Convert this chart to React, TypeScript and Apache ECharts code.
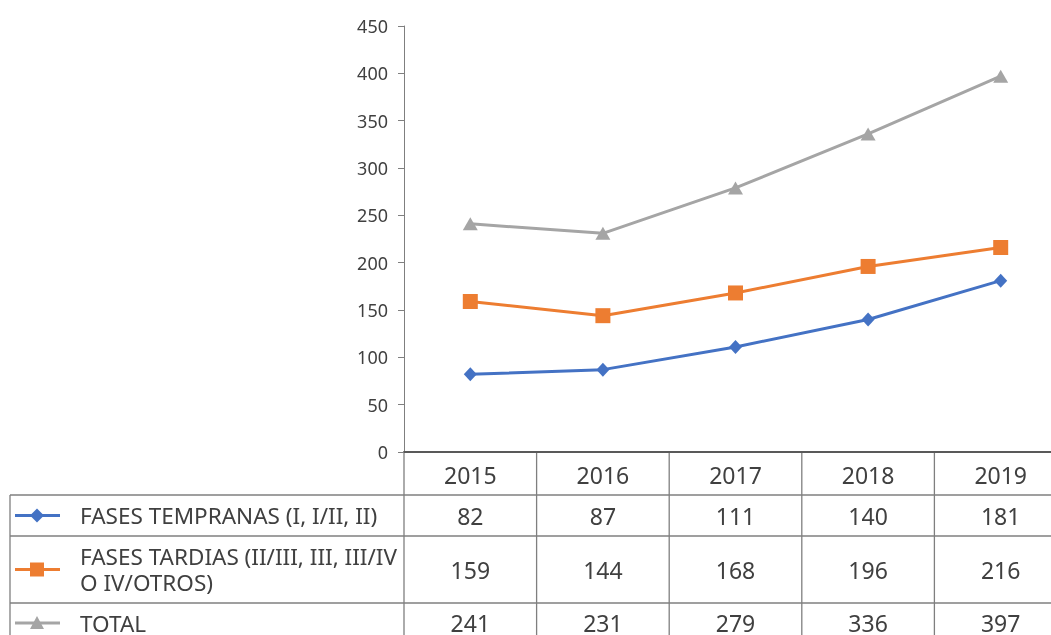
import React, { useEffect, useRef } from "react";
import * as echarts from "echarts";

const years = ["2015", "2016", "2017", "2018", "2019"];
const tempranas = [82, 87, 111, 140, 181];
const tardias = [159, 144, 168, 196, 216];
const total = [241, 231, 279, 336, 397];
const seriesNames = [
  "FASES TEMPRANAS (I, I/II, II)",
  "FASES TARDIAS (II/III, III, III/IV\nO IV/OTROS)",
  "TOTAL",
];
const yMin = 0;
const yMax = 450;
const yStep = 50;

const COLORS = ["#4472C4", "#ED7D31", "#A5A5A5"];
const SYMBOLS = ["diamond", "rect", "triangle"];
const SYMBOL_SIZES: any[] = [[13, 14], 15, [15, 13]];
const FONT = "Noto Sans";
const TEXT = "#404040";
const LINE = "#7f7f7f";

export default function App() {
  const ref = useRef<HTMLDivElement>(null);
  useEffect(() => {
    if (!ref.current) return;
    const chart = echarts.init(ref.current, null, { renderer: "svg" });
    const allSeries = [tempranas, tardias, total];
    const gridLeft = 404;
    const gridTop = 26;
    const gridW = 663;
    const gridH = 426;
    chart.setOption({
      animation: false,
      grid: { left: gridLeft, top: gridTop, width: gridW, height: gridH, containLabel: false },
      xAxis: {
        type: "category",
        data: years,
        boundaryGap: true,
        axisLine: { lineStyle: { color: "#595959", width: 2 } },
        axisTick: { show: false },
        axisLabel: { color: TEXT, fontFamily: FONT, fontSize: 23, margin: 11 },
      },
      yAxis: {
        type: "value",
        min: yMin,
        max: yMax,
        interval: yStep,
        splitLine: { show: false },
        axisLine: { show: true, lineStyle: { color: LINE, width: 1 } },
        axisTick: { show: true, length: 6, lineStyle: { color: LINE } },
        axisLabel: { color: TEXT, fontFamily: FONT, fontSize: 18, margin: 16 },
      },
      series: allSeries.map((d, i) => ({
        type: "line",
        name: seriesNames[i],
        data: d,
        symbol: SYMBOLS[i],
        symbolSize: SYMBOL_SIZES[i],
        itemStyle: { color: COLORS[i] },
        lineStyle: { color: COLORS[i], width: 3 },
      })),
    });

    // Data table below the axis
    const rowTops = [495, 536, 603, 642];
    const headerTop = 452;
    const tableLeft = 10;
    const tableRight = 1075;
    const colX = years.map((y) => chart.convertToPixel({ xAxisIndex: 0 }, y) as number);
    const half = (colX[1] - colX[0]) / 2;
    const els: any[] = [];
    const hline = (y: number, x1: number, x2: number) =>
      els.push({ type: "line", shape: { x1, y1: y, x2, y2: y }, style: { stroke: LINE, lineWidth: 1.3 }, silent: true });
    const vline = (x: number, y1: number, y2: number) =>
      els.push({ type: "line", shape: { x1: x, y1, x2: x, y2 }, style: { stroke: LINE, lineWidth: 1.3 }, silent: true });
    rowTops.slice(0, 3).forEach((y) => hline(y, tableLeft, tableRight));
    vline(tableLeft, rowTops[0], 640);
    vline(gridLeft, gridTop + gridH, 640);
    colX.forEach((x) => vline(x + half, headerTop, 640));

    allSeries.forEach((d, r) => {
      const cy = (rowTops[r] + rowTops[r + 1]) / 2;
      d.forEach((v, c) => {
        els.push({
          type: "text",
          x: colX[c],
          y: cy,
          silent: true,
          style: { text: String(v), fill: TEXT, fontFamily: FONT, fontSize: 23, align: "center", verticalAlign: "middle" },
        });
      });
      // legend key
      const ky = r === 2 ? 623 : cy;
      els.push({ type: "line", shape: { x1: 15, y1: ky, x2: 60, y2: ky }, style: { stroke: COLORS[r], lineWidth: 3 }, silent: true });
      if (r === 0) {
        els.push({ type: "polygon", shape: { points: [[37, ky - 7], [44, ky], [37, ky + 7], [30, ky]] }, style: { fill: COLORS[r] }, silent: true });
      } else if (r === 1) {
        els.push({ type: "rect", shape: { x: 30, y: ky - 7, width: 14, height: 14 }, style: { fill: COLORS[r] }, silent: true });
      } else {
        els.push({ type: "polygon", shape: { points: [[37, ky - 7], [44, ky + 6], [30, ky + 6]] }, style: { fill: COLORS[r] }, silent: true });
      }
      els.push({
        type: "text",
        x: 80,
        y: r === 2 ? 623 : cy,
        silent: true,
        style: {
          text: seriesNames[r],
          fill: TEXT,
          fontFamily: FONT,
          fontSize: 22.5,
          lineHeight: 26,
          align: "left",
          verticalAlign: "middle",
        },
      });
    });
    chart.setOption({ graphic: { elements: els } });
    return () => chart.dispose();
  }, []);
  return (
    <div style={{ position: "fixed", left: 0, top: 0, width: 1051, height: 635, overflow: "hidden" }}>
      <div ref={ref} style={{ width: 1080, height: 645 }} />
    </div>
  );
}
